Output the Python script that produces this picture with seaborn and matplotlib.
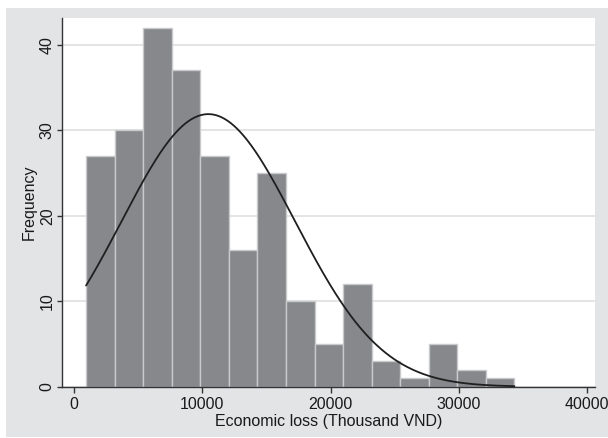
import numpy as np
import pandas as pd
import matplotlib
matplotlib.use("Agg")
import matplotlib.pyplot as plt
import seaborn as sns
from matplotlib.patches import Rectangle

# ---- data ----
frequencies = [27, 30, 42, 37, 27, 16, 25, 10, 5, 12, 3, 1, 5, 2, 1]
bin_start = 940.0        # lower edge of first bin (Thousand VND)
bin_width = 2227.0       # bin width (Thousand VND)
fit_mean = 10470.0       # mean of overlaid normal curve
fit_sd = 6770.0          # sd of overlaid normal curve
x_ticks = [0, 10000, 20000, 30000, 40000]
y_ticks = [0, 10, 20, 30, 40]
x_label = "Economic loss (Thousand VND)"
y_label = "Frequency"

n_bins = len(frequencies)
edges = bin_start + bin_width * np.arange(n_bins + 1)
centers = (edges[:-1] + edges[1:]) / 2
df = pd.DataFrame({"loss": centers, "count": np.array(frequencies, dtype=float)})
n_total = sum(frequencies)

sns.set_style("white")
plt.rcParams["font.family"] = ["Liberation Sans", "DejaVu Sans"]

fig = plt.figure(figsize=(6.08, 4.38), dpi=100, facecolor="white")
fig.patches.append(Rectangle((6 / 608, 1 - 437 / 438), 1 - 6 / 608, (437 - 8.3) / 438,
                             transform=fig.transFigure, facecolor="#e3e4e6",
                             edgecolor="none", zorder=0))
ax = fig.add_axes([62.3 / 608, 1 - 386.7 / 438, (595 - 62.3) / 608, (386.7 - 18.3) / 438])
ax.set_facecolor("white")
ax.set_zorder(1)

sns.histplot(data=df, x="loss", weights="count", binwidth=bin_width,
             binrange=(float(edges[0]), float(edges[-1])), color="#87888c",
             edgecolor="#c9cacc", linewidth=1.0, alpha=1.0, ax=ax, zorder=2)

xs = np.linspace(edges[0], edges[-1], 400)
ys = n_total * bin_width / (fit_sd * np.sqrt(2 * np.pi)) * np.exp(-0.5 * ((xs - fit_mean) / fit_sd) ** 2)
sns.lineplot(x=xs, y=ys, color="#1f1f1f", linewidth=1.3, ax=ax, zorder=3)

ax.set_xlim(-916, 40626)
ax.set_ylim(0, 43.1)
ax.set_xticks(x_ticks)
ax.set_yticks(y_ticks)
ax.set_xticklabels([str(t) for t in x_ticks], fontsize=11.5, color="#1a1a1a")
ax.set_yticklabels([str(t) for t in y_ticks], fontsize=11.5, color="#1a1a1a",
                   rotation=90, va="center")
ax.set_xlabel(x_label, fontsize=11.5, color="#1a1a1a", labelpad=1)
ax.set_ylabel(y_label, fontsize=11.5, color="#1a1a1a", labelpad=2.5)

ax.yaxis.grid(True, color="#e4e4e4", linewidth=1.4, zorder=0)
ax.set_axisbelow(True)
for s in ["top", "right"]:
    ax.spines[s].set_visible(False)
for s in ["left", "bottom"]:
    ax.spines[s].set_color("#333333")
    ax.spines[s].set_linewidth(1.0)
ax.tick_params(axis="x", direction="out", length=4.5, width=1.0,
               color="#333333", pad=3, bottom=True)
ax.tick_params(axis="y", direction="out", length=3.6, width=1.0,
               color="#333333", pad=1.8, left=True)

fig.savefig("out.png", dpi=100, facecolor="white")
